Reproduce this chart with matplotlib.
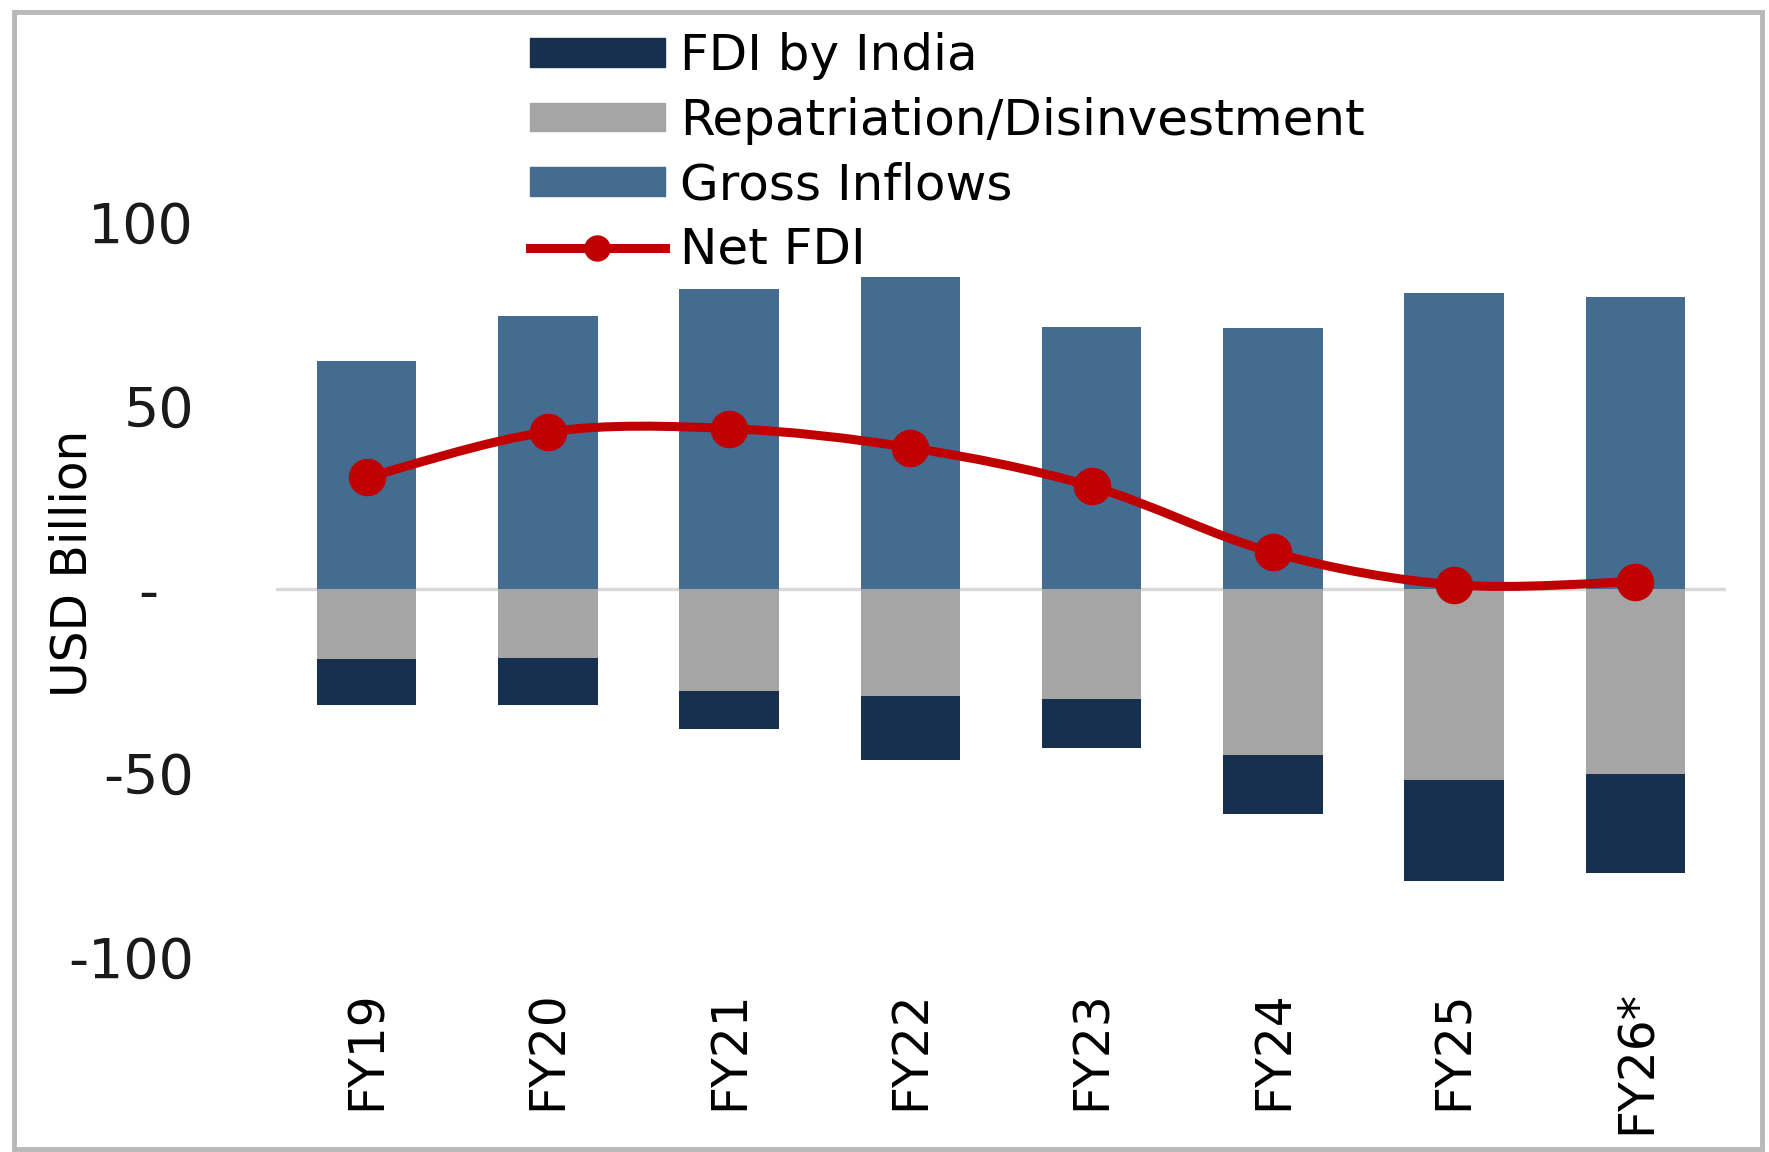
import matplotlib
matplotlib.use("Agg")
import matplotlib.pyplot as plt
from matplotlib.path import Path
from matplotlib.patches import PathPatch, Rectangle
from matplotlib.lines import Line2D
from matplotlib.patches import Patch
import numpy as np

categories = ["FY19", "FY20", "FY21", "FY22", "FY23", "FY24", "FY25", "FY26*"]
gross_inflows = [62.0, 74.4, 81.7, 84.8, 71.3, 71.0, 80.6, 79.4]
repatriation = [-19.0, -18.8, -27.6, -29.1, -29.8, -45.0, -51.8, -50.3]
fdi_by_india = [-12.6, -12.8, -10.4, -17.2, -13.5, -16.0, -27.6, -27.0]
net_fdi = [30.4, 42.8, 43.7, 38.5, 28.0, 10.0, 1.2, 2.1]
ytick_vals = [-100, -50, 0, 50, 100]
ytick_labels = ["-100", "-50", "-  ", "50", "100"]

C_GROSS = "#436c90"
C_REPAT = "#a5a5a5"
C_INDIA = "#17304e"
C_NET = "#c00000"

fig = plt.figure(figsize=(17.69, 11.52), dpi=100)
ax = fig.add_axes([0.156, 0.1693, 0.8197, 0.798])

x = np.arange(len(categories))
w = 0.55
ax.bar(x, gross_inflows, width=w, color=C_GROSS, zorder=2)
ax.bar(x, repatriation, width=w, color=C_REPAT, zorder=2)
ax.bar(x, fdi_by_india, width=w, bottom=repatriation, color=C_INDIA, zorder=2)
ax.axhline(0, color="#d9d9d9", lw=2.5, zorder=1)

# smoothed line through net FDI points (Catmull-Rom -> cubic Bezier)
pts = np.column_stack([x, net_fdi]).astype(float)
verts = [tuple(pts[0])]
codes = [Path.MOVETO]
n = len(pts)
for i in range(n - 1):
    p0 = pts[i - 1] if i > 0 else pts[i]
    p1 = pts[i]
    p2 = pts[i + 1]
    p3 = pts[i + 2] if i + 2 < n else pts[i + 1]
    c1 = p1 + (p2 - p0) / 6.0
    c2 = p2 - (p3 - p1) / 6.0
    verts += [tuple(c1), tuple(c2), tuple(p2)]
    codes += [Path.CURVE4] * 3
ax.add_patch(PathPatch(Path(verts, codes), facecolor="none", edgecolor=C_NET,
                       lw=6.5, zorder=3, capstyle="round", joinstyle="round"))
ax.plot(x, net_fdi, linestyle="none", marker="o", ms=26, color=C_NET, zorder=4)

ax.set_xlim(-0.5, len(categories) - 0.5)
ax.set_ylim(-100, 150)
ax.set_yticks(ytick_vals)
ax.set_yticklabels(ytick_labels, fontsize=40, fontfamily="DejaVu Sans", color="#1a1a1a")
ax.set_xticks(x)
ax.set_xticklabels(categories, rotation=90, fontsize=35, fontfamily="DejaVu Sans",
                   va="top", ha="center")
ax.tick_params(axis="both", length=0)
ax.tick_params(axis="y", pad=59)
ax.tick_params(axis="x", pad=24)
for s in ax.spines.values():
    s.set_visible(False)
ax.set_ylabel("USD Billion", fontsize=35)
ax.yaxis.set_label_coords(-0.124, 0.428)

handles = [Patch(color=C_INDIA), Patch(color=C_REPAT), Patch(color=C_GROSS),
           Line2D([0], [0], color=C_NET, lw=6.5, marker="o", ms=18)]
labels = ["FDI by India", "Repatriation/Disinvestment", "Gross Inflows", "Net FDI"]
fig.legend(handles, labels, loc="upper left", bbox_to_anchor=(0.2995, 0.972),
           frameon=False, fontsize=36, handlelength=2.7, handleheight=0.5,
           handletextpad=0.3, labelspacing=0.33, borderaxespad=0, borderpad=0)

fig.patches.append(Rectangle((0.008, 0.003), 0.988, 0.987, transform=fig.transFigure,
                             fill=False, edgecolor="#b8b8b8", lw=3.5))

fig.savefig("out.png", dpi=100, facecolor="white")
